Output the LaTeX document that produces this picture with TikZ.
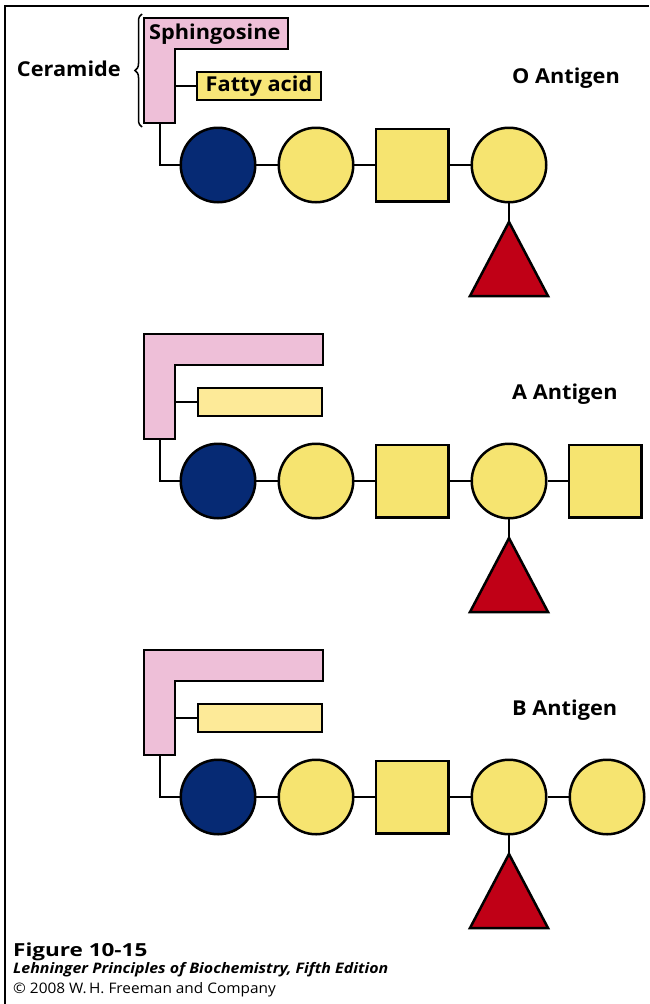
\documentclass[tikz,border=0pt]{standalone}
\usepackage{fontspec}
\setmainfont{Open Sans}[FakeStretch=1.06]
\newfontfamily\figfont{Open Sans}[FakeStretch=1.25]
\newfontfamily\bookfont{Open Sans}[FakeStretch=1.1]
\usetikzlibrary{decorations.pathreplacing}
\definecolor{glcblue}{RGB}{6,42,116}
\definecolor{sugaryellow}{RGB}{246,228,112}
\definecolor{fabright}{RGB}{248,230,120}
\definecolor{fapale}{RGB}{253,234,152}
\definecolor{sphpink}{RGB}{238,191,216}
\definecolor{fucred}{RGB}{192,0,22}

\begin{document}
\begin{tikzpicture}[x=1pt,y=-1pt,
  outline/.style={draw=black,line width=2.5pt},
  link/.style={line width=2pt},
  glc/.style={outline,shape=circle,fill=glcblue,minimum size=74.5pt,inner sep=0pt},
  gal/.style={outline,shape=circle,fill=sugaryellow,minimum size=74.5pt,inner sep=0pt},
  galnac/.style={outline,shape=rectangle,fill=sugaryellow,minimum size=72.5pt,inner sep=0pt},
  fatty/.style={outline,shape=rectangle,minimum width=124pt,minimum height=28pt,inner sep=0pt},
  tag/.style={font=\bfseries\fontsize{20.5}{23}\selectfont}]
\useasboundingbox (0,0) rectangle (649,1004);
\draw[line width=2pt] (5,1004) -- (5,6) -- (649,6);

% ceramide tails
\draw[outline,fill=sphpink] (144,18) -- (288,18) -- (288,49) -- (175,49) -- (175,123) -- (144,123) -- cycle;
\draw[outline,fill=sphpink] (144,334) -- (323,334) -- (323,365) -- (175,365) -- (175,439) -- (144,439) -- cycle;
\draw[outline,fill=sphpink] (144,650) -- (323,650) -- (323,681) -- (175,681) -- (175,755) -- (144,755) -- cycle;
\node (sphingosine) [tag,anchor=west,inner sep=0pt] at (149,34) {Sphingosine};
\node (fao) [fatty,fill=fabright,tag] at (259,86) {Fatty acid};
\node (faa) [fatty,fill=fapale] at (260,402) {};
\node (fab) [fatty,fill=fapale] at (260,718) {};
\draw[line width=1.5pt,decorate,decoration={brace,amplitude=7pt}] (142,127) -- (142,14);
\node (ceramide) [tag,anchor=east,inner sep=0pt] at (121,69) {Ceramide};

% sugar chains
\foreach \p/\dy in {o/0,a/316,b/632} {
  \coordinate (stem\p) at (160,124+\dy);
  \coordinate (branch\p) at (175,86+\dy);
  \coordinate (apex\p) at (509,222+\dy);
  \draw[link] (stem\p) |- (218,165+\dy);
  \draw[link] (branch\p) -- (fa\p);
  \draw[link] (218,165+\dy) -- (509,165+\dy);
  \draw[link] (509,165+\dy) -- (apex\p);
  \node (glc\p) [glc] at (218,165+\dy) {};
  \node (gal\p) [gal] at (316,165+\dy) {};
  \node (nac\p) [galnac] at (412,165+\dy) {};
  \node (galb\p) [gal] at (509,165+\dy) {};
  \draw[outline,fill=fucred] (apex\p) -- (548,296+\dy) -- (470,296+\dy) -- cycle;
}
\node (naca2) [galnac] at (605,481) {};
\draw[link] (galba) -- (naca2);
\node (galcb) [gal] at (607,797) {};
\draw[link] (galbb) -- (galcb);

\node (antigeno) [tag,anchor=west,inner sep=0pt] at (512,78) {O Antigen};
\node (antigena) [tag,anchor=west,inner sep=0pt] at (512,394) {A Antigen};
\node (antigenb) [tag,anchor=west,inner sep=0pt] at (512,710) {B Antigen};

% caption
\node (fignum) [anchor=base west,inner sep=0pt,font=\figfont\bfseries\fontsize{18}{20}\selectfont] at (13,956) {Figure 10-15};
\node (book) [anchor=base west,inner sep=0pt,font=\bookfont\bfseries\itshape\fontsize{14.5}{16}\selectfont] at (13,973) {Lehninger Principles of Biochemistry, Fifth Edition};
\node (credit) [anchor=base west,inner sep=0pt,font=\fontsize{14.5}{16}\selectfont] at (13,993) {\textcopyright{} 2008 W.\,H. Freeman and Company};
\end{tikzpicture}
\end{document}
